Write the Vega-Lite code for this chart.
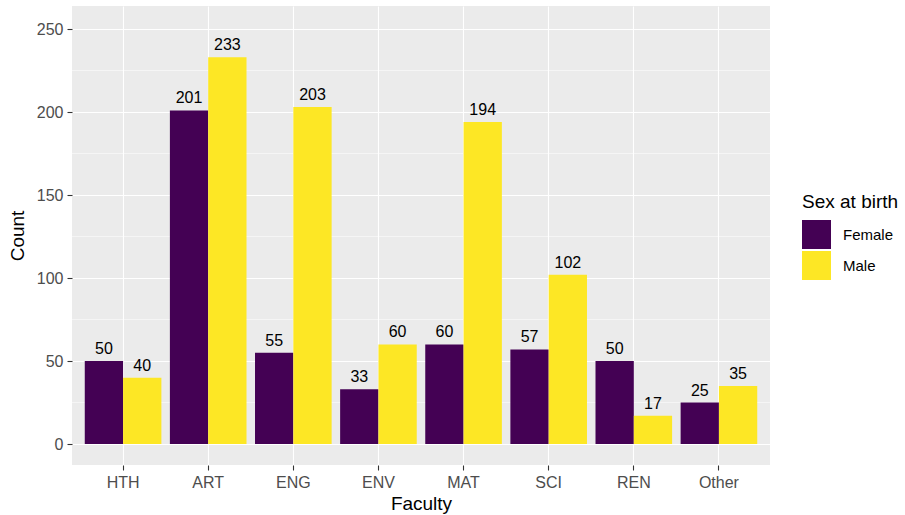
{
  "$schema": "https://vega.github.io/schema/vega-lite/v6.json",
  "autosize": "none",
  "width": 698,
  "height": 459,
  "padding": {"left": 72, "top": 6, "right": 135, "bottom": 50},
  "background": "white",
  "config": {
    "font": "Liberation Sans",
    "view": {"fill": "#EBEBEB", "stroke": null},
    "axis": {
      "domain": false,
      "grid": true,
      "gridColor": "white",
      "gridWidth": 1.1,
      "tickColor": "#333333",
      "tickSize": 5,
      "tickWidth": 1.1,
      "labelColor": "#4D4D4D",
      "labelFontSize": 16,
      "titleFontSize": 19,
      "titleFontWeight": "normal",
      "titleColor": "black"
    }
  },
  "datasets": {
    "counts": [
      {"Faculty": "HTH", "Sex": "Female", "Count": 50},
      {"Faculty": "HTH", "Sex": "Male", "Count": 40},
      {"Faculty": "ART", "Sex": "Female", "Count": 201},
      {"Faculty": "ART", "Sex": "Male", "Count": 233},
      {"Faculty": "ENG", "Sex": "Female", "Count": 55},
      {"Faculty": "ENG", "Sex": "Male", "Count": 203},
      {"Faculty": "ENV", "Sex": "Female", "Count": 33},
      {"Faculty": "ENV", "Sex": "Male", "Count": 60},
      {"Faculty": "MAT", "Sex": "Female", "Count": 60},
      {"Faculty": "MAT", "Sex": "Male", "Count": 194},
      {"Faculty": "SCI", "Sex": "Female", "Count": 57},
      {"Faculty": "SCI", "Sex": "Male", "Count": 102},
      {"Faculty": "REN", "Sex": "Female", "Count": 50},
      {"Faculty": "REN", "Sex": "Male", "Count": 17},
      {"Faculty": "Other", "Sex": "Female", "Count": 25},
      {"Faculty": "Other", "Sex": "Male", "Count": 35}
    ],
    "minor": [
      {"grid": 25}, {"grid": 75}, {"grid": 125}, {"grid": 175}, {"grid": 225}
    ]
  },
  "layer": [
    {
      "data": {"name": "minor"},
      "mark": {"type": "rule", "color": "white", "strokeWidth": 0.55},
      "encoding": {
        "y": {"field": "grid", "type": "quantitative",
              "scale": {"domain": [-12.6, 263.9], "nice": false, "zero": false},
              "axis": {"title": "Count", "values": [0, 50, 100, 150, 200, 250], "labelPadding": 4, "titlePadding": 9}}
      }
    },
    {
      "data": {"name": "counts"},
      "mark": {"type": "bar"},
      "encoding": {
        "x": {"field": "Faculty", "type": "nominal",
              "sort": ["HTH", "ART", "ENG", "ENV", "MAT", "SCI", "REN", "Other"],
              "scale": {"paddingInner": 0.1, "paddingOuter": 0.15},
              "axis": {"title": "Faculty", "labelAngle": 0, "bandPosition": 0.5, "grid": true, "labelPadding": 4, "titlePadding": 4}},
        "xOffset": {"field": "Sex", "type": "nominal", "scale": {"paddingInner": 0, "paddingOuter": 0}},
        "y": {"field": "Count", "type": "quantitative",
              "scale": {"domain": [-12.6, 263.9], "nice": false, "zero": false},
              "axis": {"title": "Count", "values": [0, 50, 100, 150, 200, 250], "labelPadding": 4, "titlePadding": 9}},
        "color": {"field": "Sex", "type": "nominal",
                  "scale": {"domain": ["Female", "Male"], "range": ["#440154", "#FDE725"]},
                  "legend": {"title": "Sex at birth", "orient": "none", "legendX": 730, "legendY": 187,
                             "padding": 0, "symbolType": "square", "symbolSize": 841, "symbolStrokeWidth": 0,
                             "symbolOpacity": 1,
                             "rowPadding": 2, "labelOffset": 12, "labelFontSize": 15, "labelColor": "black",
                             "titleFontSize": 19, "titleFontWeight": "normal", "titleColor": "black", "titlePadding": 8}}
      }
    },
    {
      "data": {"name": "counts"},
      "mark": {"type": "text", "baseline": "alphabetic", "dy": -7, "fontSize": 16, "color": "black"},
      "encoding": {
        "x": {"field": "Faculty", "type": "nominal",
              "sort": ["HTH", "ART", "ENG", "ENV", "MAT", "SCI", "REN", "Other"]},
        "xOffset": {"field": "Sex", "type": "nominal"},
        "y": {"field": "Count", "type": "quantitative"},
        "text": {"field": "Count", "type": "quantitative"}
      }
    }
  ]
}
